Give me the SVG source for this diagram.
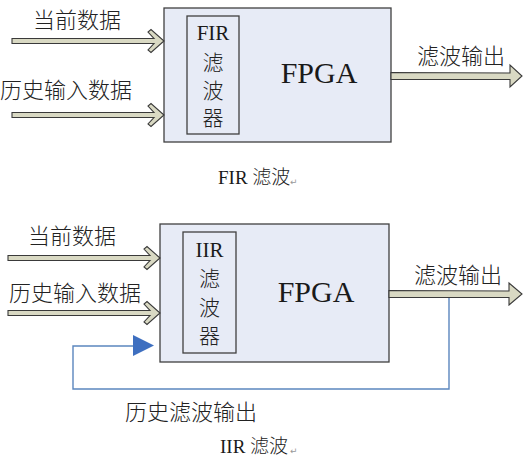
<svg xmlns="http://www.w3.org/2000/svg" width="527" height="458" viewBox="0 0 527 458">
<style>
.fpga{fill:#e7ebf6;stroke:#404040;stroke-width:1.3}
.inner{fill:#e7ebf6;stroke:#404040;stroke-width:1.3}
.arr{fill:#d9d9c3;stroke:#3a3a3a;stroke-width:1.1;stroke-linejoin:miter}
.fb{fill:none;stroke:#5b86be;stroke-width:1.4}
.t{font-family:"Liberation Serif","Noto Sans CJK SC",serif;fill:#1a1a1a}
.cjk{font-family:"Noto Sans CJK SC","Liberation Serif",sans-serif;fill:#222;font-weight:300}
.big{font-size:30px}
.lab{font-size:22px}
.cap{font-size:19px}
.ret{font-family:"DejaVu Sans",sans-serif;font-size:9px;fill:#999}
</style>
<defs>
<polygon id="inArrow" points="0,-2.5 142,-2.5 136,-9 139,-11.5 152,0 139,11.5 136,9 142,2.5 0,2.5"/>
</defs>
<rect width="527" height="458" fill="#fff"/>

<g id="fir-diagram">
<g id="fpga1">
<rect class="fpga" x="164" y="8" width="227" height="134"/>
<text class="t big" x="319" y="83" text-anchor="middle">FPGA</text>
</g>
<g id="fir-filter">
<rect class="inner" x="187" y="16" width="52" height="118"/>
<text class="t" x="213" y="40" font-size="21" text-anchor="middle">FIR<tspan class="cjk" x="213" dy="30">滤</tspan><tspan class="cjk" x="213" dy="28">波</tspan><tspan class="cjk" x="213" dy="27">器</tspan></text>
</g>
<g id="connectors1">
<use href="#inArrow" class="arr" x="12" y="41"/>
<use href="#inArrow" class="arr" x="12" y="115"/>
<polygon class="arr" points="391,72.5 510,73 510,65 522,76 510,87 510,79.5 391,79.5"/>
</g>
<g id="labels1">
<text class="cjk lab" x="33" y="28">当前数据</text>
<text class="cjk lab" x="0" y="98">历史输入数据</text>
<text class="cjk lab" x="417" y="64">滤波输出</text>
</g>
<g id="caption1">
<text class="t cap" x="218" y="184">FIR <tspan class="cjk">滤波</tspan></text>
<text class="ret" x="290" y="185">↵</text>
</g>
</g>

<g id="iir-diagram">
<g id="fpga2">
<rect class="fpga" x="160" y="224" width="229" height="138"/>
<text class="t big" x="316" y="302" text-anchor="middle">FPGA</text>
</g>
<g id="iir-filter">
<rect class="inner" x="183" y="232" width="53" height="121"/>
<text class="t" x="209.5" y="257" font-size="21" text-anchor="middle">IIR<tspan class="cjk" x="209.5" dy="29">滤</tspan><tspan class="cjk" x="209.5" dy="29">波</tspan><tspan class="cjk" x="209.5" dy="28">器</tspan></text>
</g>
<g id="connectors2">
<use href="#inArrow" class="arr" x="8" y="258"/>
<use href="#inArrow" class="arr" x="8" y="313"/>
<polygon class="arr" points="389,290.5 509,291 509,283 522,294 509,305 509,297.5 389,297.5"/>
<polyline class="fb" points="449,298 449,389 73,389 73,346 134,346"/>
<polygon points="133,335 154,345.5 133,356" fill="#3e6fc0"/>
</g>
<g id="labels2">
<text class="cjk lab" x="28" y="244">当前数据</text>
<text class="cjk lab" x="9" y="301">历史输入数据</text>
<text class="cjk lab" x="414" y="283">滤波输出</text>
<text class="cjk lab" x="125" y="420">历史滤波输出</text>
</g>
<g id="caption2">
<text class="t cap" x="220" y="453">IIR <tspan class="cjk">滤波</tspan></text>
<text class="ret" x="290" y="454">↵</text>
</g>
</g>
</svg>
